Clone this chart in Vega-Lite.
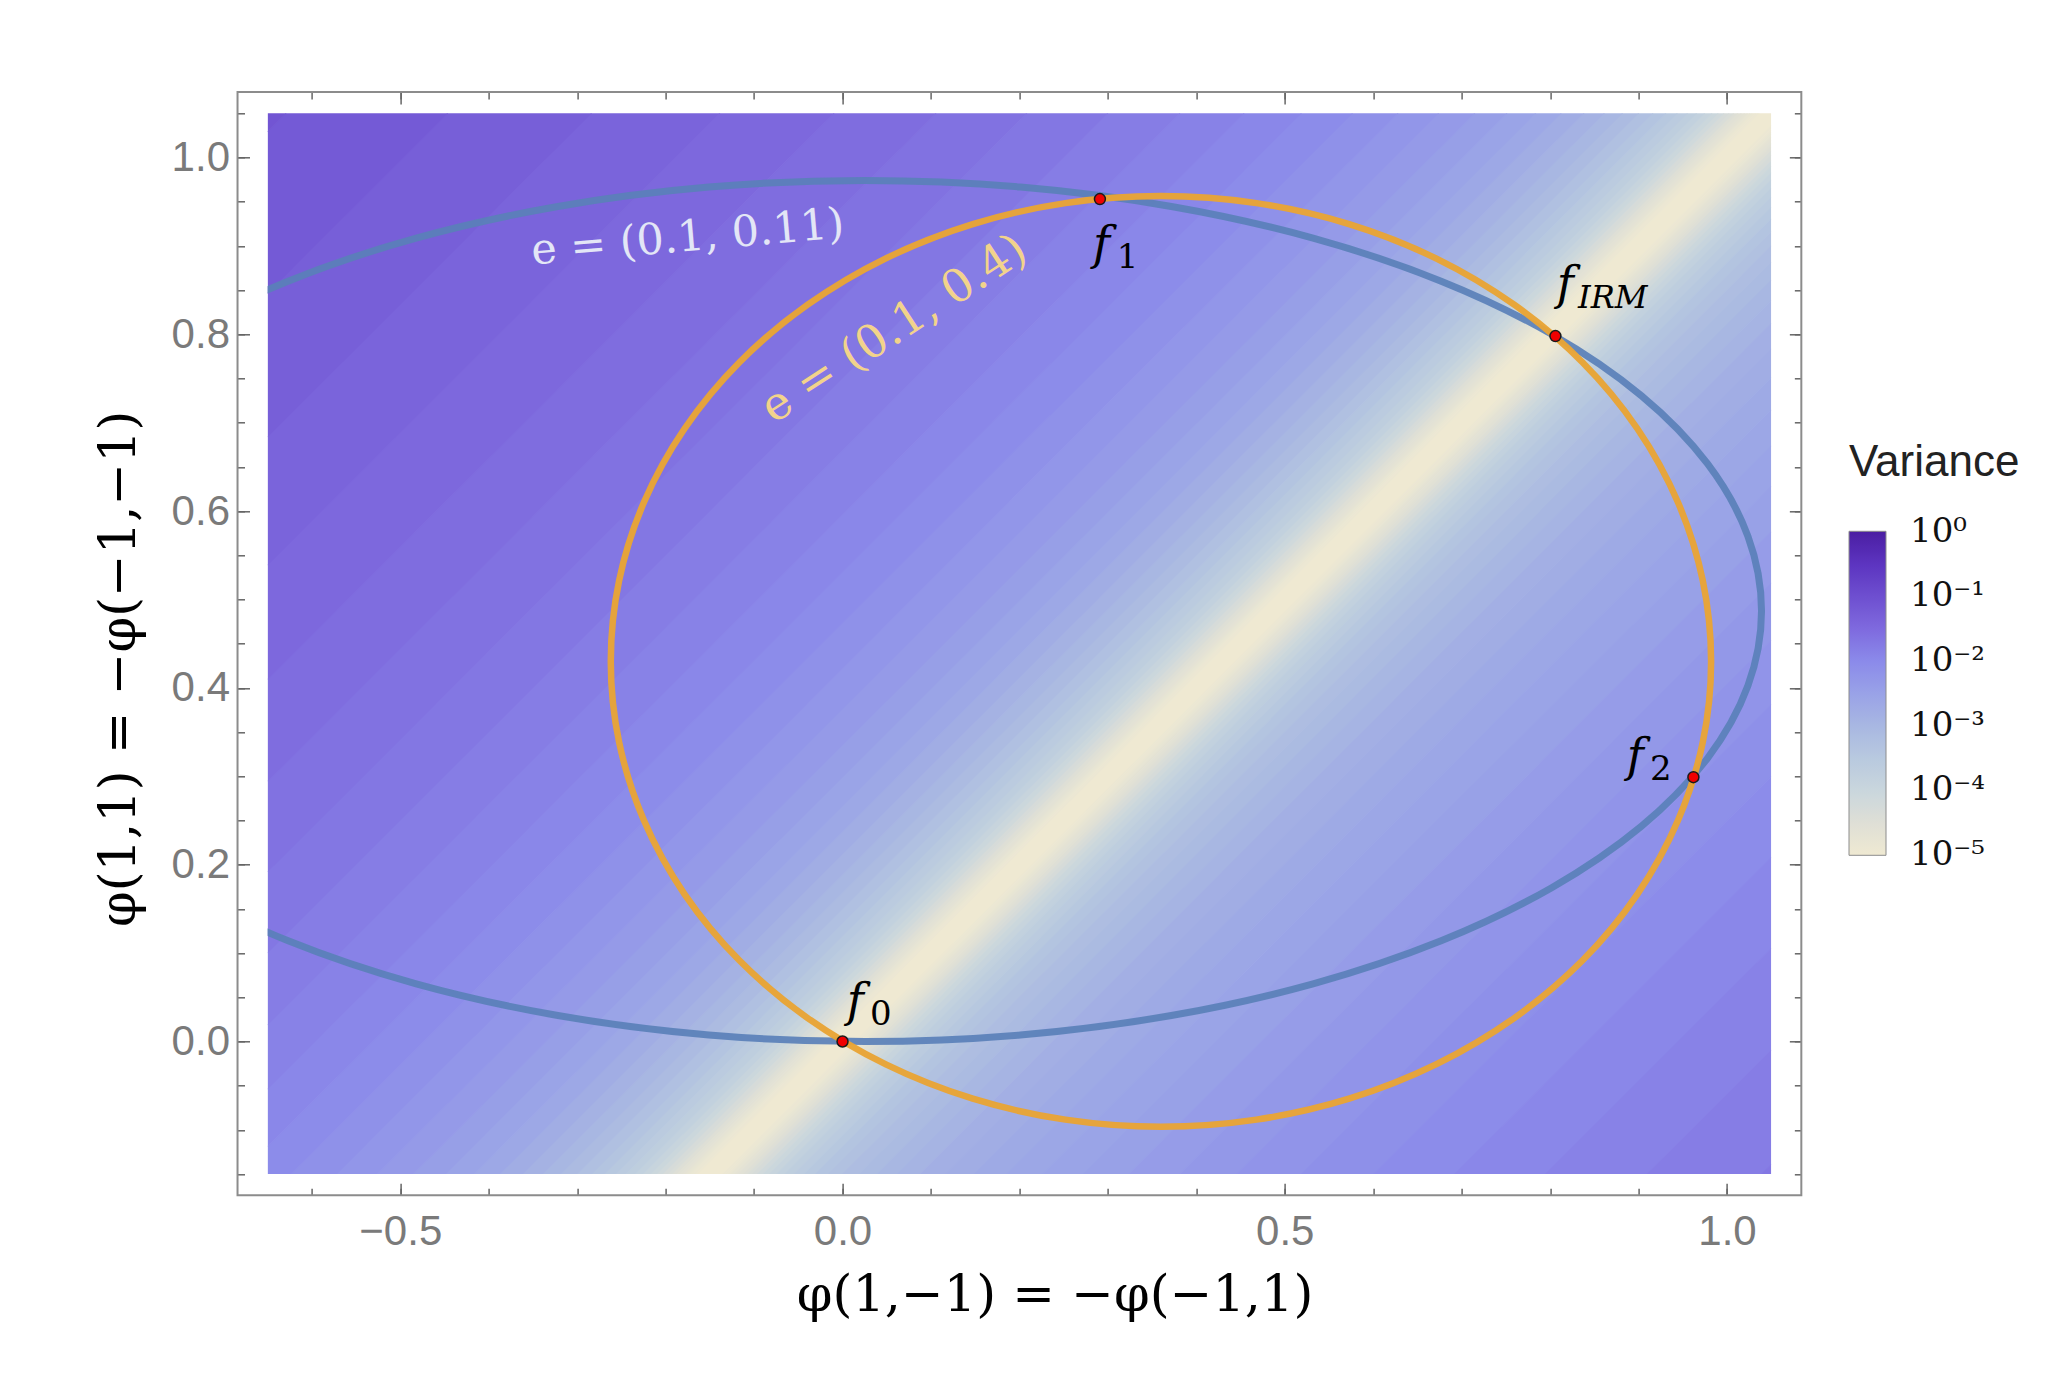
{
  "$schema": "https://vega.github.io/schema/vega-lite/v6.json",
  "width": 1503.65,
  "height": 1060.8,
  "autosize": {"type": "none"},
  "padding": {"left": 267.6, "top": 113.3, "right": 277.75, "bottom": 203.9},
  "background": "#ffffff",
  "config": {"view": {"stroke": null}, "axis": {"grid": false}},
  "resolve": {"axis": {"x": "independent", "y": "independent"}},
  "layer": [
    {
      "data": {"values": [
        {"b":"c","x":-0.65,"y":-0.6643,"y2":-0.6357,"v":1e-5},{"b":"c","x":1.05,"y":1.0357,"y2":1.0643,"v":1e-5},
        {"b":"u0","x":-0.65,"y":-0.6367,"y2":-0.634,"v":1.122e-5},{"b":"u0","x":1.05,"y":1.0633,"y2":1.066,"v":1.122e-5},
        {"b":"u1","x":-0.65,"y":-0.635,"y2":-0.6322,"v":1.175e-5},{"b":"u1","x":1.05,"y":1.065,"y2":1.0678,"v":1.175e-5},
        {"b":"u2","x":-0.65,"y":-0.6332,"y2":-0.6302,"v":1.202e-5},{"b":"u2","x":1.05,"y":1.0668,"y2":1.0698,"v":1.202e-5},
        {"b":"u3","x":-0.65,"y":-0.6312,"y2":-0.6279,"v":1.259e-5},{"b":"u3","x":1.05,"y":1.0688,"y2":1.0721,"v":1.259e-5},
        {"b":"u4","x":-0.65,"y":-0.6289,"y2":-0.6253,"v":1.445e-5},{"b":"u4","x":1.05,"y":1.0711,"y2":1.0747,"v":1.445e-5},
        {"b":"u5","x":-0.65,"y":-0.6263,"y2":-0.6224,"v":1.66e-5},{"b":"u5","x":1.05,"y":1.0737,"y2":1.0776,"v":1.66e-5},
        {"b":"u6","x":-0.65,"y":-0.6234,"y2":-0.6191,"v":1.905e-5},{"b":"u6","x":1.05,"y":1.0766,"y2":1.0809,"v":1.905e-5},
        {"b":"u7","x":-0.65,"y":-0.6201,"y2":-0.6155,"v":2.239e-5},{"b":"u7","x":1.05,"y":1.0799,"y2":1.0845,"v":2.239e-5},
        {"b":"u8","x":-0.65,"y":-0.6165,"y2":-0.6114,"v":2.57e-5},{"b":"u8","x":1.05,"y":1.0835,"y2":1.0886,"v":2.57e-5},
        {"b":"u9","x":-0.65,"y":-0.6124,"y2":-0.6068,"v":3.236e-5},{"b":"u9","x":1.05,"y":1.0876,"y2":1.0932,"v":3.236e-5},
        {"b":"u10","x":-0.65,"y":-0.6078,"y2":-0.6017,"v":4.074e-5},{"b":"u10","x":1.05,"y":1.0922,"y2":1.0983,"v":4.074e-5},
        {"b":"u11","x":-0.65,"y":-0.6027,"y2":-0.5959,"v":5.012e-5},{"b":"u11","x":1.05,"y":1.0973,"y2":1.1041,"v":5.012e-5},
        {"b":"u12","x":-0.65,"y":-0.5969,"y2":-0.5894,"v":6.761e-5},{"b":"u12","x":1.05,"y":1.1031,"y2":1.1106,"v":6.761e-5},
        {"b":"u13","x":-0.65,"y":-0.5904,"y2":-0.5822,"v":8.913e-5},{"b":"u13","x":1.05,"y":1.1096,"y2":1.1178,"v":8.913e-5},
        {"b":"u14","x":-0.65,"y":-0.5832,"y2":-0.574,"v":1.175e-4},{"b":"u14","x":1.05,"y":1.1168,"y2":1.126,"v":1.175e-4},
        {"b":"u15","x":-0.65,"y":-0.575,"y2":-0.5649,"v":1.585e-4},{"b":"u15","x":1.05,"y":1.125,"y2":1.1351,"v":1.585e-4},
        {"b":"u16","x":-0.65,"y":-0.5659,"y2":-0.5546,"v":2.042e-4},{"b":"u16","x":1.05,"y":1.1341,"y2":1.1454,"v":2.042e-4},
        {"b":"u17","x":-0.65,"y":-0.5556,"y2":-0.5431,"v":2.63e-4},{"b":"u17","x":1.05,"y":1.1444,"y2":1.1569,"v":2.63e-4},
        {"b":"u18","x":-0.65,"y":-0.5441,"y2":-0.5301,"v":3.388e-4},{"b":"u18","x":1.05,"y":1.1559,"y2":1.1699,"v":3.388e-4},
        {"b":"u19","x":-0.65,"y":-0.5311,"y2":-0.5156,"v":4.467e-4},{"b":"u19","x":1.05,"y":1.1689,"y2":1.1844,"v":4.467e-4},
        {"b":"u20","x":-0.65,"y":-0.5166,"y2":-0.4994,"v":5.754e-4},{"b":"u20","x":1.05,"y":1.1834,"y2":1.2006,"v":5.754e-4},
        {"b":"u21","x":-0.65,"y":-0.5004,"y2":-0.4811,"v":7.586e-4},{"b":"u21","x":1.05,"y":1.1996,"y2":1.2189,"v":7.586e-4},
        {"b":"u22","x":-0.65,"y":-0.4821,"y2":-0.4606,"v":9.772e-4},{"b":"u22","x":1.05,"y":1.2179,"y2":1.2394,"v":9.772e-4},
        {"b":"u23","x":-0.65,"y":-0.4616,"y2":-0.4376,"v":1.288e-3},{"b":"u23","x":1.05,"y":1.2384,"y2":1.2624,"v":1.288e-3},
        {"b":"u24","x":-0.65,"y":-0.4386,"y2":-0.4119,"v":1.698e-3},{"b":"u24","x":1.05,"y":1.2614,"y2":1.2881,"v":1.698e-3},
        {"b":"u25","x":-0.65,"y":-0.4129,"y2":-0.3829,"v":2.291e-3},{"b":"u25","x":1.05,"y":1.2871,"y2":1.3171,"v":2.291e-3},
        {"b":"u26","x":-0.65,"y":-0.3839,"y2":-0.3505,"v":2.884e-3},{"b":"u26","x":1.05,"y":1.3161,"y2":1.3495,"v":2.884e-3},
        {"b":"u27","x":-0.65,"y":-0.3515,"y2":-0.314,"v":3.631e-3},{"b":"u27","x":1.05,"y":1.3485,"y2":1.386,"v":3.631e-3},
        {"b":"u28","x":-0.65,"y":-0.315,"y2":-0.2732,"v":4.571e-3},{"b":"u28","x":1.05,"y":1.385,"y2":1.4268,"v":4.571e-3},
        {"b":"u29","x":-0.65,"y":-0.2742,"y2":-0.2273,"v":5.754e-3},{"b":"u29","x":1.05,"y":1.4258,"y2":1.4727,"v":5.754e-3},
        {"b":"u30","x":-0.65,"y":-0.2283,"y2":-0.1758,"v":7.244e-3},{"b":"u30","x":1.05,"y":1.4717,"y2":1.5242,"v":7.244e-3},
        {"b":"u31","x":-0.65,"y":-0.1768,"y2":-0.1181,"v":8.913e-3},{"b":"u31","x":1.05,"y":1.5232,"y2":1.5819,"v":8.913e-3},
        {"b":"u32","x":-0.65,"y":-0.1191,"y2":-0.0533,"v":1.096e-2},{"b":"u32","x":1.05,"y":1.5809,"y2":1.6467,"v":1.096e-2},
        {"b":"u33","x":-0.65,"y":-0.0543,"y2":0.0193,"v":1.318e-2},{"b":"u33","x":1.05,"y":1.6457,"y2":1.7193,"v":1.318e-2},
        {"b":"u34","x":-0.65,"y":0.0183,"y2":0.1009,"v":1.622e-2},{"b":"u34","x":1.05,"y":1.7183,"y2":1.8009,"v":1.622e-2},
        {"b":"u35","x":-0.65,"y":0.0999,"y2":0.1924,"v":1.95e-2},{"b":"u35","x":1.05,"y":1.7999,"y2":1.8924,"v":1.95e-2},
        {"b":"u36","x":-0.65,"y":0.1914,"y2":0.2951,"v":2.344e-2},{"b":"u36","x":1.05,"y":1.8914,"y2":1.9951,"v":2.344e-2},
        {"b":"u37","x":-0.65,"y":0.2941,"y2":0.4103,"v":2.818e-2},{"b":"u37","x":1.05,"y":1.9941,"y2":2.1103,"v":2.818e-2},
        {"b":"u38","x":-0.65,"y":0.4093,"y2":0.5395,"v":3.467e-2},{"b":"u38","x":1.05,"y":2.1093,"y2":2.2395,"v":3.467e-2},
        {"b":"u39","x":-0.65,"y":0.5385,"y2":0.6845,"v":4.169e-2},{"b":"u39","x":1.05,"y":2.2385,"y2":2.3845,"v":4.169e-2},
        {"b":"u40","x":-0.65,"y":0.6835,"y2":0.8472,"v":5.129e-2},{"b":"u40","x":1.05,"y":2.3835,"y2":2.5472,"v":5.129e-2},
        {"b":"u41","x":-0.65,"y":0.8462,"y2":1.0298,"v":6.31e-2},{"b":"u41","x":1.05,"y":2.5462,"y2":2.7298,"v":6.31e-2},
        {"b":"u42","x":-0.65,"y":1.0288,"y2":1.2346,"v":7.762e-2},{"b":"u42","x":1.05,"y":2.7288,"y2":2.9346,"v":7.762e-2},
        {"b":"l0","x":-0.65,"y":-0.666,"y2":-0.6633,"v":1.122e-5},{"b":"l0","x":1.05,"y":1.034,"y2":1.0367,"v":1.122e-5},
        {"b":"l1","x":-0.65,"y":-0.6678,"y2":-0.665,"v":1.175e-5},{"b":"l1","x":1.05,"y":1.0322,"y2":1.035,"v":1.175e-5},
        {"b":"l2","x":-0.65,"y":-0.6698,"y2":-0.6668,"v":1.202e-5},{"b":"l2","x":1.05,"y":1.0302,"y2":1.0332,"v":1.202e-5},
        {"b":"l3","x":-0.65,"y":-0.6721,"y2":-0.6688,"v":1.259e-5},{"b":"l3","x":1.05,"y":1.0279,"y2":1.0312,"v":1.259e-5},
        {"b":"l4","x":-0.65,"y":-0.6747,"y2":-0.6711,"v":1.445e-5},{"b":"l4","x":1.05,"y":1.0253,"y2":1.0289,"v":1.445e-5},
        {"b":"l5","x":-0.65,"y":-0.6776,"y2":-0.6737,"v":1.66e-5},{"b":"l5","x":1.05,"y":1.0224,"y2":1.0263,"v":1.66e-5},
        {"b":"l6","x":-0.65,"y":-0.6809,"y2":-0.6766,"v":1.905e-5},{"b":"l6","x":1.05,"y":1.0191,"y2":1.0234,"v":1.905e-5},
        {"b":"l7","x":-0.65,"y":-0.6845,"y2":-0.6799,"v":2.239e-5},{"b":"l7","x":1.05,"y":1.0155,"y2":1.0201,"v":2.239e-5},
        {"b":"l8","x":-0.65,"y":-0.6886,"y2":-0.6835,"v":2.57e-5},{"b":"l8","x":1.05,"y":1.0114,"y2":1.0165,"v":2.57e-5},
        {"b":"l9","x":-0.65,"y":-0.6932,"y2":-0.6876,"v":3.236e-5},{"b":"l9","x":1.05,"y":1.0068,"y2":1.0124,"v":3.236e-5},
        {"b":"l10","x":-0.65,"y":-0.6983,"y2":-0.6922,"v":4.074e-5},{"b":"l10","x":1.05,"y":1.0017,"y2":1.0078,"v":4.074e-5},
        {"b":"l11","x":-0.65,"y":-0.7041,"y2":-0.6973,"v":5.012e-5},{"b":"l11","x":1.05,"y":0.9959,"y2":1.0027,"v":5.012e-5},
        {"b":"l12","x":-0.65,"y":-0.7106,"y2":-0.7031,"v":6.761e-5},{"b":"l12","x":1.05,"y":0.9894,"y2":0.9969,"v":6.761e-5},
        {"b":"l13","x":-0.65,"y":-0.7178,"y2":-0.7096,"v":8.913e-5},{"b":"l13","x":1.05,"y":0.9822,"y2":0.9904,"v":8.913e-5},
        {"b":"l14","x":-0.65,"y":-0.726,"y2":-0.7168,"v":1.175e-4},{"b":"l14","x":1.05,"y":0.974,"y2":0.9832,"v":1.175e-4},
        {"b":"l15","x":-0.65,"y":-0.7351,"y2":-0.725,"v":1.585e-4},{"b":"l15","x":1.05,"y":0.9649,"y2":0.975,"v":1.585e-4},
        {"b":"l16","x":-0.65,"y":-0.7454,"y2":-0.7341,"v":2.042e-4},{"b":"l16","x":1.05,"y":0.9546,"y2":0.9659,"v":2.042e-4},
        {"b":"l17","x":-0.65,"y":-0.7569,"y2":-0.7444,"v":2.63e-4},{"b":"l17","x":1.05,"y":0.9431,"y2":0.9556,"v":2.63e-4},
        {"b":"l18","x":-0.65,"y":-0.7699,"y2":-0.7559,"v":3.388e-4},{"b":"l18","x":1.05,"y":0.9301,"y2":0.9441,"v":3.388e-4},
        {"b":"l19","x":-0.65,"y":-0.7844,"y2":-0.7689,"v":4.467e-4},{"b":"l19","x":1.05,"y":0.9156,"y2":0.9311,"v":4.467e-4},
        {"b":"l20","x":-0.65,"y":-0.8006,"y2":-0.7834,"v":5.37e-4},{"b":"l20","x":1.05,"y":0.8994,"y2":0.9166,"v":5.37e-4},
        {"b":"l21","x":-0.65,"y":-0.8189,"y2":-0.7996,"v":6.607e-4},{"b":"l21","x":1.05,"y":0.8811,"y2":0.9004,"v":6.607e-4},
        {"b":"l22","x":-0.65,"y":-0.8394,"y2":-0.8179,"v":7.943e-4},{"b":"l22","x":1.05,"y":0.8606,"y2":0.8821,"v":7.943e-4},
        {"b":"l23","x":-0.65,"y":-0.8624,"y2":-0.8384,"v":9.772e-4},{"b":"l23","x":1.05,"y":0.8376,"y2":0.8616,"v":9.772e-4},
        {"b":"l24","x":-0.65,"y":-0.8881,"y2":-0.8614,"v":1.202e-3},{"b":"l24","x":1.05,"y":0.8119,"y2":0.8386,"v":1.202e-3},
        {"b":"l25","x":-0.65,"y":-0.9171,"y2":-0.8871,"v":1.514e-3},{"b":"l25","x":1.05,"y":0.7829,"y2":0.8129,"v":1.514e-3},
        {"b":"l26","x":-0.65,"y":-0.9495,"y2":-0.9161,"v":1.778e-3},{"b":"l26","x":1.05,"y":0.7505,"y2":0.7839,"v":1.778e-3},
        {"b":"l27","x":-0.65,"y":-0.986,"y2":-0.9485,"v":2.089e-3},{"b":"l27","x":1.05,"y":0.714,"y2":0.7515,"v":2.089e-3},
        {"b":"l28","x":-0.65,"y":-1.0268,"y2":-0.985,"v":2.455e-3},{"b":"l28","x":1.05,"y":0.6732,"y2":0.715,"v":2.455e-3},
        {"b":"l29","x":-0.65,"y":-1.0727,"y2":-1.0258,"v":2.884e-3},{"b":"l29","x":1.05,"y":0.6273,"y2":0.6742,"v":2.884e-3},
        {"b":"l30","x":-0.65,"y":-1.1242,"y2":-1.0717,"v":3.388e-3},{"b":"l30","x":1.05,"y":0.5758,"y2":0.6283,"v":3.388e-3},
        {"b":"l31","x":-0.65,"y":-1.1819,"y2":-1.1232,"v":4.169e-3},{"b":"l31","x":1.05,"y":0.5181,"y2":0.5768,"v":4.169e-3},
        {"b":"l32","x":-0.65,"y":-1.2467,"y2":-1.1809,"v":5.129e-3},{"b":"l32","x":1.05,"y":0.4533,"y2":0.5191,"v":5.129e-3},
        {"b":"l33","x":-0.65,"y":-1.3193,"y2":-1.2457,"v":6.166e-3},{"b":"l33","x":1.05,"y":0.3807,"y2":0.4543,"v":6.166e-3},
        {"b":"l34","x":-0.65,"y":-1.4009,"y2":-1.3183,"v":7.586e-3},{"b":"l34","x":1.05,"y":0.2991,"y2":0.3817,"v":7.586e-3},
        {"b":"l35","x":-0.65,"y":-1.4924,"y2":-1.3999,"v":9.12e-3},{"b":"l35","x":1.05,"y":0.2076,"y2":0.3001,"v":9.12e-3},
        {"b":"l36","x":-0.65,"y":-1.5951,"y2":-1.4914,"v":1.096e-2},{"b":"l36","x":1.05,"y":0.1049,"y2":0.2086,"v":1.096e-2},
        {"b":"l37","x":-0.65,"y":-1.7103,"y2":-1.5941,"v":1.318e-2},{"b":"l37","x":1.05,"y":-0.0103,"y2":0.1059,"v":1.318e-2},
        {"b":"l38","x":-0.65,"y":-1.8395,"y2":-1.7093,"v":1.622e-2},{"b":"l38","x":1.05,"y":-0.1395,"y2":-0.0093,"v":1.622e-2},
        {"b":"l39","x":-0.65,"y":-1.9845,"y2":-1.8385,"v":1.95e-2},{"b":"l39","x":1.05,"y":-0.2845,"y2":-0.1385,"v":1.95e-2}
      ]},
      "mark": {"type": "area", "clip": true, "opacity": 1, "interpolate": "linear"},
      "encoding": {
        "x": {"field": "x", "type": "quantitative", "scale": {"domain": [-0.65, 1.05], "nice": false, "zero": false},
          "axis": {"orient": "bottom", "offset": 21.2, "values": [-0.5, 0, 0.5, 1], "format": ".1f", "ticks": false, "domain": false, "grid": false,
            "labelFont": "Liberation Sans", "labelFontSize": 42, "labelColor": "#7a7a7a", "labelPadding": 16, "labelFlush": false, "labelOverlap": false,
            "title": "φ(1,−1) = −φ(−1,1)", "titleFont": "DejaVu Serif", "titleFontSize": 51, "titleFontWeight": "normal", "titleColor": "#000000",
            "titleX": 787, "titleY": 115, "titleBaseline": "alphabetic", "titleAlign": "center"}},
        "y": {"field": "y", "type": "quantitative", "stack": null, "scale": {"domain": [-0.15, 1.05], "nice": false, "zero": false},
          "axis": {"orient": "left", "offset": 30.1, "values": [0, 0.2, 0.4, 0.6, 0.8, 1], "format": ".1f", "ticks": false, "domain": false, "grid": false,
            "labelFont": "Liberation Sans", "labelFontSize": 42, "labelColor": "#7a7a7a", "labelPadding": 8, "labelFlush": false, "labelOverlap": false,
            "title": "φ(1,1) = −φ(−1,−1)", "titleFont": "DejaVu Serif", "titleFontSize": 51, "titleFontWeight": "normal", "titleColor": "#000000",
            "titleX": -103, "titleY": 555, "titleBaseline": "alphabetic", "titleAlign": "center", "titleAngle": -90}},
        "y2": {"field": "y2"},
        "detail": {"field": "b", "type": "nominal"},
        "color": {"field": "v", "type": "quantitative",
          "scale": {"type": "log", "domain": [0.98e-5, 3.162e-5, 1e-4, 3.162e-4, 1e-3, 3.162e-3, 1e-2, 3.162e-2, 1e-1, 0.3162, 1.02],
            "range": ["#efe9d2", "#dedfd6", "#c9d6dd", "#b8c9df", "#a8b7e2", "#99a2e7", "#8b8aea", "#7e6ade", "#6e4fd0", "#5c34c0", "#4b1ea2"],
            "interpolate": "rgb", "clamp": true},
          "legend": {"title": "Variance", "orient": "none", "legendX": 1581.4, "legendY": 328, "direction": "vertical",
            "gradientLength": 324, "gradientThickness": 37, "gradientStrokeColor": "#8c8c8c", "gradientStrokeWidth": 1,
            "values": [0.00001, 0.0001, 0.001, 0.01, 0.1, 1],
            "labelExpr": "datum.value > 0.5 ? '10⁰' : datum.value > 0.05 ? '10⁻¹' : datum.value > 0.005 ? '10⁻²' : datum.value > 0.0005 ? '10⁻³' : datum.value > 0.00005 ? '10⁻⁴' : '10⁻⁵'",
            "labelFont": "DejaVu Serif", "labelFontSize": 34, "labelColor": "#111111", "labelOffset": 24, "labelBaseline": "middle", "labelOverlap": false,
            "titleFont": "Liberation Sans", "titleFontSize": 44, "titleFontWeight": "normal", "titleColor": "#222222", "titlePadding": 46, "padding": 0,
            "encode": {"labels": {"update": {"baseline": {"value": "middle"}}}, "title": {"update": {"dx": {"value": 12}}}}}}
      }
    },
    {
      "data": {"values": [{"x0": -0.684, "x1": 1.084, "y0": -0.174, "y1": 1.074}]},
      "mark": {"type": "rect", "filled": false, "stroke": "#8c8c8c", "strokeWidth": 2, "clip": false},
      "encoding": {
        "x": {"field": "x0", "type": "quantitative", "scale": {"domain": [-0.65, 1.05], "nice": false, "zero": false}, "axis": null},
        "x2": {"field": "x1"},
        "y": {"field": "y0", "type": "quantitative", "scale": {"domain": [-0.15, 1.05], "nice": false, "zero": false}, "axis": null},
        "y2": {"field": "y1"}
      }
    },
    {
      "data": {"values": [
        {"i":0,"x":1.039,"y":0.487},{"i":1,"x":1.0236,"y":0.5716},{"i":2,"x":0.9779,"y":0.6536},{"i":3,"x":0.9032,"y":0.7305},
        {"i":4,"x":0.8018,"y":0.8},{"i":5,"x":0.6768,"y":0.8601},{"i":6,"x":0.532,"y":0.9088},{"i":7,"x":0.3718,"y":0.9446},
        {"i":8,"x":0.2011,"y":0.9666},{"i":9,"x":0.025,"y":0.974},{"i":10,"x":-0.1511,"y":0.9666},{"i":11,"x":-0.3218,"y":0.9446},
        {"i":12,"x":-0.482,"y":0.9088},{"i":13,"x":-0.6268,"y":0.8601},{"i":14,"x":-0.7518,"y":0.8},{"i":15,"x":-0.8532,"y":0.7305},
        {"i":16,"x":-0.9279,"y":0.6536},{"i":17,"x":-0.9736,"y":0.5716},{"i":18,"x":-0.989,"y":0.487},{"i":19,"x":-0.9736,"y":0.4024},
        {"i":20,"x":-0.9279,"y":0.3204},{"i":21,"x":-0.8532,"y":0.2435},{"i":22,"x":-0.7518,"y":0.174},{"i":23,"x":-0.6268,"y":0.1139},
        {"i":24,"x":-0.482,"y":0.0652},{"i":25,"x":-0.3218,"y":0.0294},{"i":26,"x":-0.1511,"y":0.0074},{"i":27,"x":0.025,"y":0.0},
        {"i":28,"x":0.2011,"y":0.0074},{"i":29,"x":0.3718,"y":0.0294},{"i":30,"x":0.532,"y":0.0652},{"i":31,"x":0.6768,"y":0.1139},
        {"i":32,"x":0.8018,"y":0.174},{"i":33,"x":0.9032,"y":0.2435},{"i":34,"x":0.9779,"y":0.3204},{"i":35,"x":1.0236,"y":0.4024}
      ]},
      "mark": {"type": "line", "interpolate": "cardinal-closed", "clip": true, "color": "#5a80b8", "strokeWidth": 7, "opacity": 0.92},
      "encoding": {
        "x": {"field": "x", "type": "quantitative", "scale": {"domain": [-0.65, 1.05], "nice": false, "zero": false},
          "axis": {"orient": "bottom", "offset": 21.2, "values": [-0.6,-0.5,-0.4,-0.3,-0.2,-0.1,0,0.1,0.2,0.3,0.4,0.5,0.6,0.7,0.8,0.9,1.0], "labels": false, "domain": false, "grid": false, "ticks": true, "tickSize": -7, "tickColor": "#666666", "tickWidth": 1.5, "title": null}},
        "y": {"field": "y", "type": "quantitative", "scale": {"domain": [-0.15, 1.05], "nice": false, "zero": false},
          "axis": {"orient": "left", "offset": 30.1, "values": [-0.15,-0.1,-0.05,0,0.05,0.1,0.15,0.2,0.25,0.3,0.35,0.4,0.45,0.5,0.55,0.6,0.65,0.7,0.75,0.8,0.85,0.9,0.95,1.0,1.05], "labels": false, "domain": false, "grid": false, "ticks": true, "tickSize": -7, "tickColor": "#666666", "tickWidth": 1.5, "title": null}},
        "order": {"field": "i", "type": "quantitative"}
      }
    },
    {
      "data": {"values": [
        {"i":0,"x":0.982,"y":0.43},{"i":1,"x":0.9726,"y":0.5214},{"i":2,"x":0.9445,"y":0.61},{"i":3,"x":0.8987,"y":0.6932},
        {"i":4,"x":0.8365,"y":0.7684},{"i":5,"x":0.7598,"y":0.8332},{"i":6,"x":0.671,"y":0.8859},{"i":7,"x":0.5727,"y":0.9247},
        {"i":8,"x":0.468,"y":0.9484},{"i":9,"x":0.36,"y":0.9564},{"i":10,"x":0.252,"y":0.9484},{"i":11,"x":0.1473,"y":0.9247},
        {"i":12,"x":0.049,"y":0.8859},{"i":13,"x":-0.0398,"y":0.8332},{"i":14,"x":-0.1165,"y":0.7684},{"i":15,"x":-0.1787,"y":0.6932},
        {"i":16,"x":-0.2245,"y":0.61},{"i":17,"x":-0.2526,"y":0.5214},{"i":18,"x":-0.262,"y":0.43},{"i":19,"x":-0.2526,"y":0.3386},
        {"i":20,"x":-0.2245,"y":0.25},{"i":21,"x":-0.1787,"y":0.1668},{"i":22,"x":-0.1165,"y":0.0916},{"i":23,"x":-0.0398,"y":0.0268},
        {"i":24,"x":0.049,"y":-0.0259},{"i":25,"x":0.1473,"y":-0.0647},{"i":26,"x":0.252,"y":-0.0884},{"i":27,"x":0.36,"y":-0.0964},
        {"i":28,"x":0.468,"y":-0.0884},{"i":29,"x":0.5727,"y":-0.0647},{"i":30,"x":0.671,"y":-0.0259},{"i":31,"x":0.7598,"y":0.0268},
        {"i":32,"x":0.8365,"y":0.0916},{"i":33,"x":0.8987,"y":0.1668},{"i":34,"x":0.9445,"y":0.25},{"i":35,"x":0.9726,"y":0.3386}
      ]},
      "mark": {"type": "line", "interpolate": "cardinal-closed", "clip": true, "color": "#e8a436", "strokeWidth": 6.5, "opacity": 0.97},
      "encoding": {
        "x": {"field": "x", "type": "quantitative", "scale": {"domain": [-0.65, 1.05], "nice": false, "zero": false},
          "axis": {"orient": "bottom", "offset": 21.2, "values": [-0.5, 0, 0.5, 1], "labels": false, "domain": false, "grid": false, "ticks": true, "tickSize": -12, "tickColor": "#666666", "tickWidth": 1.5, "title": null}},
        "y": {"field": "y", "type": "quantitative", "scale": {"domain": [-0.15, 1.05], "nice": false, "zero": false},
          "axis": {"orient": "left", "offset": 30.1, "values": [0, 0.2, 0.4, 0.6, 0.8, 1], "labels": false, "domain": false, "grid": false, "ticks": true, "tickSize": -12, "tickColor": "#666666", "tickWidth": 1.5, "title": null}},
        "order": {"field": "i", "type": "quantitative"}
      }
    },
    {
      "data": {"values": [{"x": -0.175, "y": 0.909, "t": "e = (0.1, 0.11)"}]},
      "mark": {"type": "text", "font": "DejaVu Serif", "fontSize": 43, "angle": -5, "color": "#e3e6f6", "align": "center", "baseline": "middle"},
      "encoding": {
        "x": {"field": "x", "type": "quantitative", "scale": {"domain": [-0.65, 1.05], "nice": false, "zero": false},
          "axis": {"orient": "top", "offset": 21.2, "values": [-0.6,-0.5,-0.4,-0.3,-0.2,-0.1,0,0.1,0.2,0.3,0.4,0.5,0.6,0.7,0.8,0.9,1.0], "labels": false, "domain": false, "grid": false, "ticks": true, "tickSize": -7, "tickColor": "#666666", "tickWidth": 1.5, "title": null}},
        "y": {"field": "y", "type": "quantitative", "scale": {"domain": [-0.15, 1.05], "nice": false, "zero": false},
          "axis": {"orient": "right", "offset": 30.1, "values": [-0.15,-0.1,-0.05,0,0.05,0.1,0.15,0.2,0.25,0.3,0.35,0.4,0.45,0.5,0.55,0.6,0.65,0.7,0.75,0.8,0.85,0.9,0.95,1.0,1.05], "labels": false, "domain": false, "grid": false, "ticks": true, "tickSize": -7, "tickColor": "#666666", "tickWidth": 1.5, "title": null}},
        "text": {"field": "t", "type": "nominal"}
      }
    },
    {
      "data": {"values": [{"x": 0.0585, "y": 0.806, "t": "e = (0.1, 0.4)"}]},
      "mark": {"type": "text", "font": "DejaVu Serif", "fontSize": 46, "angle": -33, "color": "#f2d38b", "align": "center", "baseline": "middle"},
      "encoding": {
        "x": {"field": "x", "type": "quantitative", "scale": {"domain": [-0.65, 1.05], "nice": false, "zero": false},
          "axis": {"orient": "top", "offset": 21.2, "values": [-0.5, 0, 0.5, 1], "labels": false, "domain": false, "grid": false, "ticks": true, "tickSize": -12, "tickColor": "#666666", "tickWidth": 1.5, "title": null}},
        "y": {"field": "y", "type": "quantitative", "scale": {"domain": [-0.15, 1.05], "nice": false, "zero": false},
          "axis": {"orient": "right", "offset": 30.1, "values": [0, 0.2, 0.4, 0.6, 0.8, 1], "labels": false, "domain": false, "grid": false, "ticks": true, "tickSize": -12, "tickColor": "#666666", "tickWidth": 1.5, "title": null}},
        "text": {"field": "t", "type": "nominal"}
      }
    },
    {
      "data": {"values": [
        {"n": "f0", "x": 0.0, "y": 0.0}, {"n": "f1", "x": 0.291, "y": 0.953},
        {"n": "fIRM", "x": 0.806, "y": 0.798}, {"n": "f2", "x": 0.962, "y": 0.299}
      ]},
      "mark": {"type": "point", "filled": true, "fill": "#f00000", "stroke": "#1a1a1a", "strokeWidth": 1.5, "size": 120, "opacity": 1},
      "encoding": {
        "x": {"field": "x", "type": "quantitative", "scale": {"domain": [-0.65, 1.05], "nice": false, "zero": false}, "axis": null},
        "y": {"field": "y", "type": "quantitative", "scale": {"domain": [-0.15, 1.05], "nice": false, "zero": false}, "axis": null}
      }
    },
    {
      "data": {"values": [
        {"x": 0.2832, "y": 0.8852, "t": "f"}, {"x": 0.8075, "y": 0.8399, "t": "f"},
        {"x": 0.8866, "y": 0.306, "t": "f"}, {"x": 0.0047, "y": 0.0288, "t": "f"}
      ]},
      "mark": {"type": "text", "font": "DejaVu Serif", "fontStyle": "italic", "fontSize": 46, "color": "#000000", "align": "left", "baseline": "alphabetic"},
      "encoding": {
        "x": {"field": "x", "type": "quantitative", "scale": {"domain": [-0.65, 1.05], "nice": false, "zero": false}, "axis": null},
        "y": {"field": "y", "type": "quantitative", "scale": {"domain": [-0.15, 1.05], "nice": false, "zero": false}, "axis": null},
        "text": {"field": "t", "type": "nominal"}
      }
    },
    {
      "data": {"values": [
        {"x": 0.31, "y": 0.875, "t": "1"}, {"x": 0.9129, "y": 0.2958, "t": "2"}, {"x": 0.0311, "y": 0.0187, "t": "0"}
      ]},
      "mark": {"type": "text", "font": "DejaVu Serif", "fontSize": 34, "color": "#000000", "align": "left", "baseline": "alphabetic"},
      "encoding": {
        "x": {"field": "x", "type": "quantitative", "scale": {"domain": [-0.65, 1.05], "nice": false, "zero": false}, "axis": null},
        "y": {"field": "y", "type": "quantitative", "scale": {"domain": [-0.15, 1.05], "nice": false, "zero": false}, "axis": null},
        "text": {"field": "t", "type": "nominal"}
      }
    },
    {
      "data": {"values": [{"x": 0.8316, "y": 0.8298, "t": "IRM"}]},
      "mark": {"type": "text", "font": "DejaVu Serif", "fontStyle": "italic", "fontSize": 32, "color": "#000000", "align": "left", "baseline": "alphabetic"},
      "encoding": {
        "x": {"field": "x", "type": "quantitative", "scale": {"domain": [-0.65, 1.05], "nice": false, "zero": false}, "axis": null},
        "y": {"field": "y", "type": "quantitative", "scale": {"domain": [-0.15, 1.05], "nice": false, "zero": false}, "axis": null},
        "text": {"field": "t", "type": "nominal"}
      }
    }
  ]
}
